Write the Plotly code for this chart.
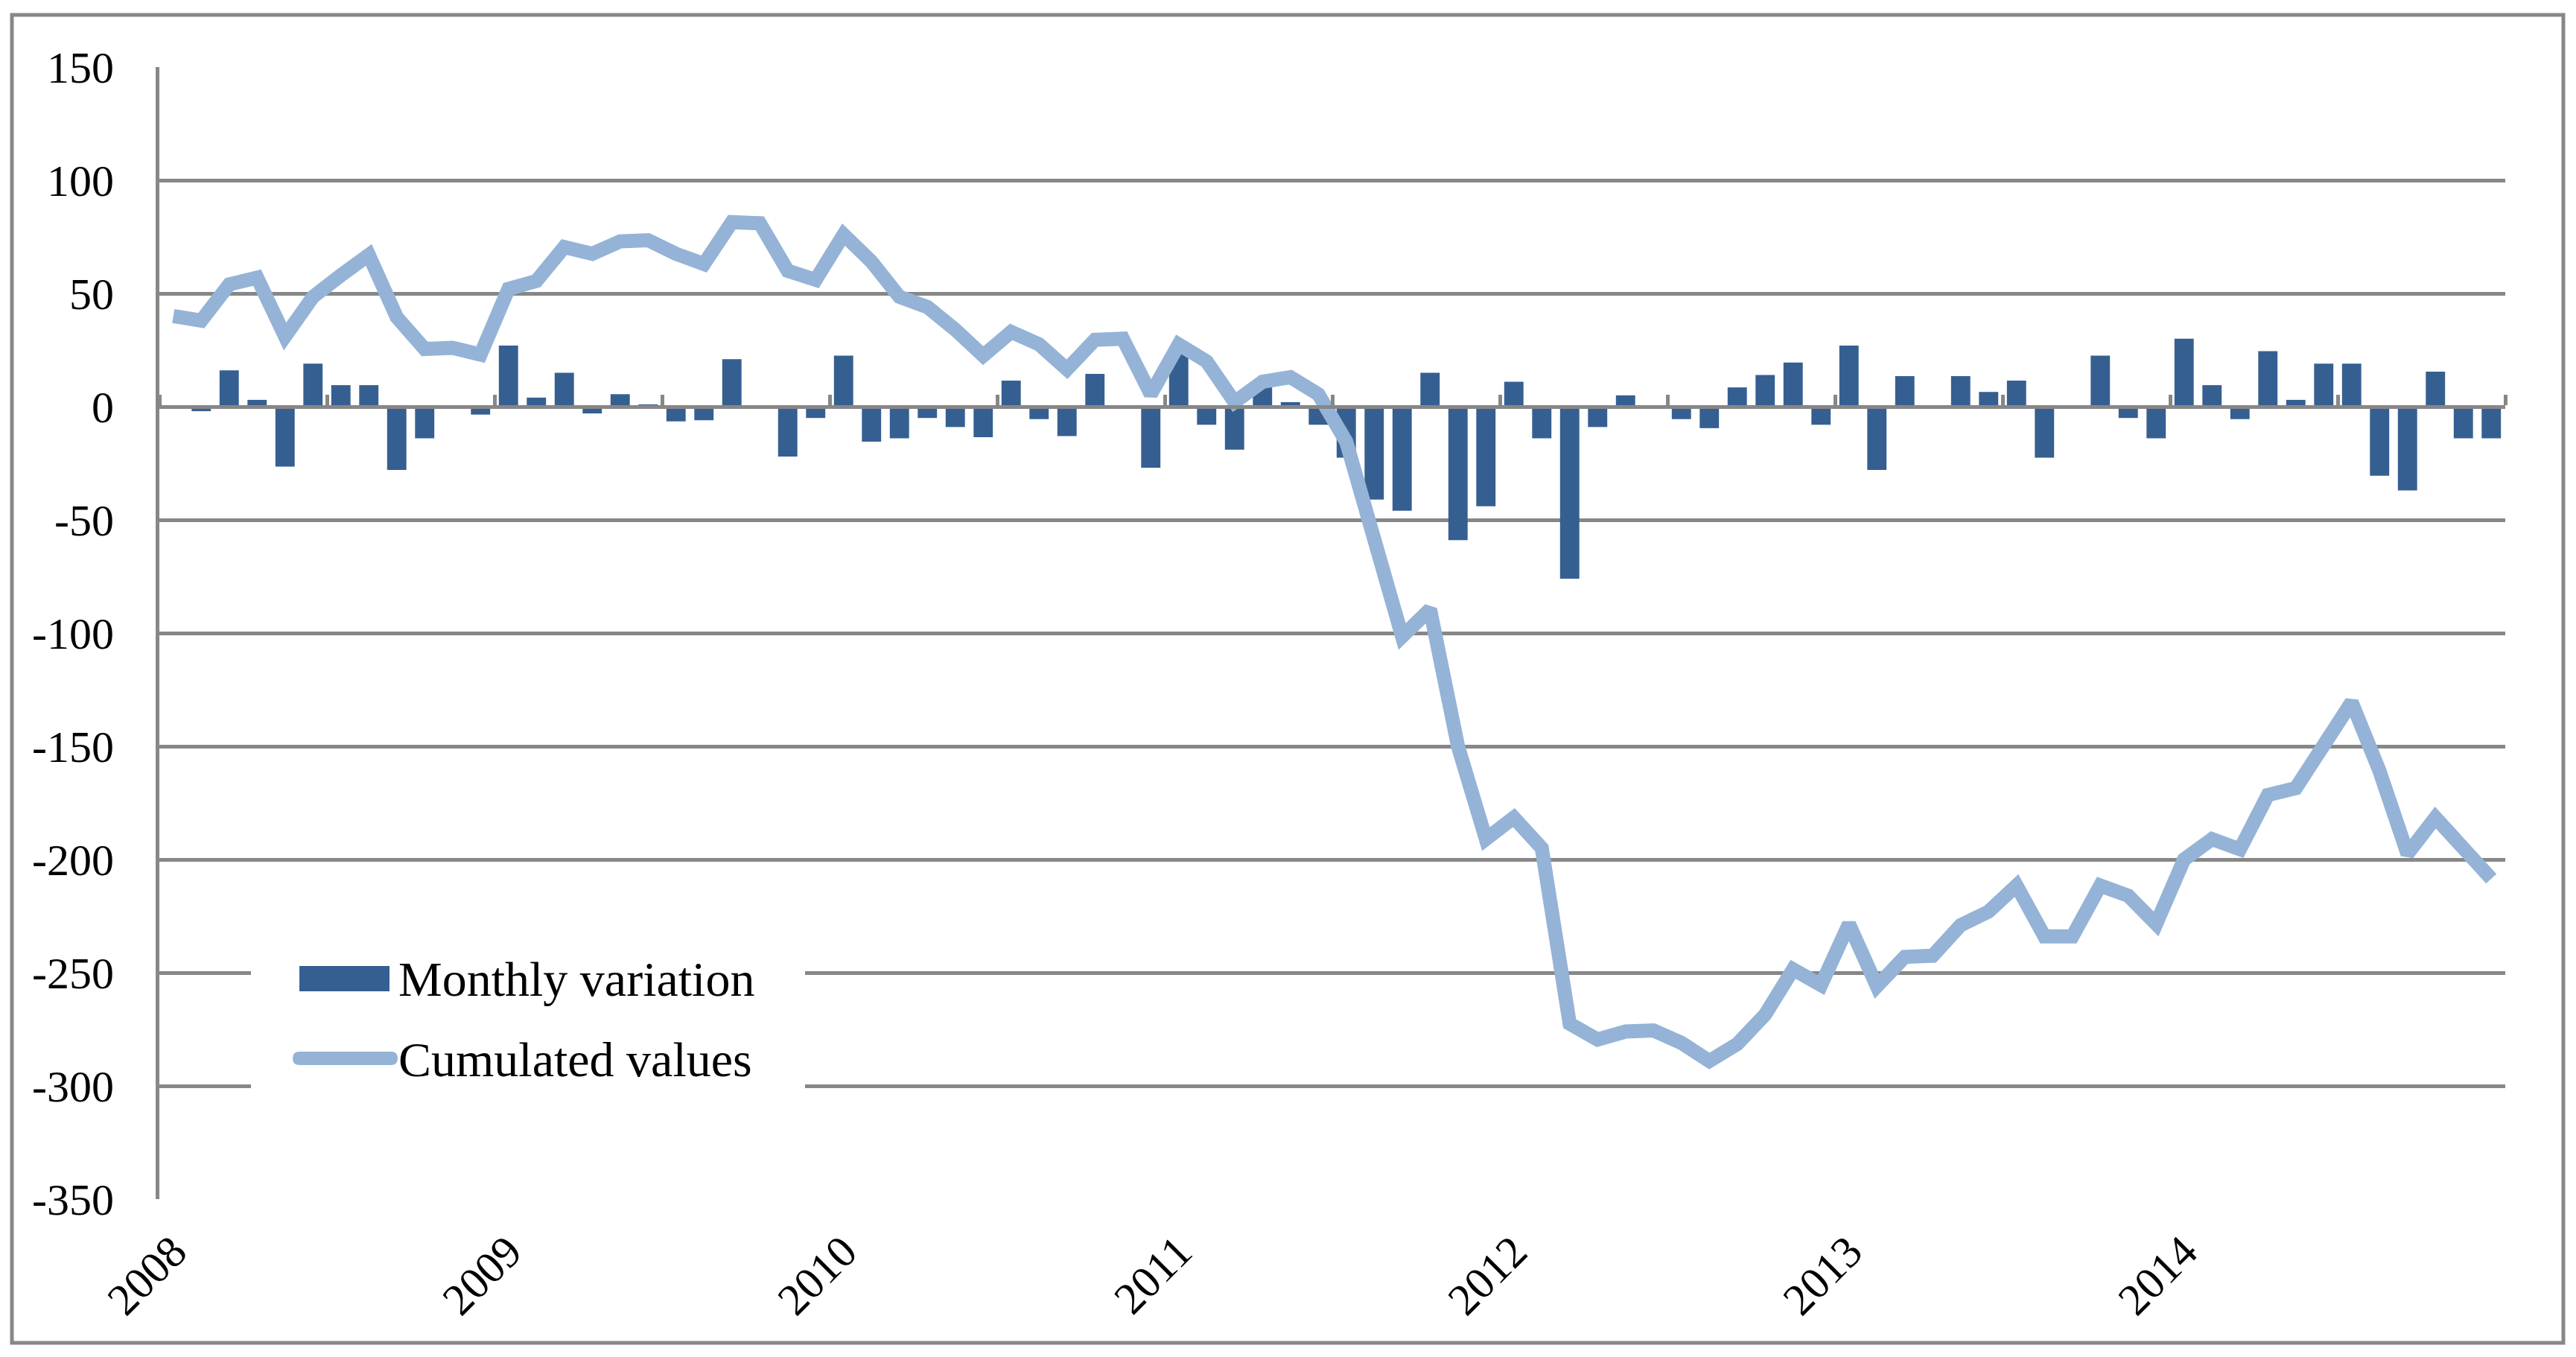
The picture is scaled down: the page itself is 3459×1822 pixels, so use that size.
import plotly.graph_objects as go

# ---------------- data ----------------
years = ["2008", "2009", "2010", "2011", "2012", "2013", "2014"]
month_numbers = ["01", "02", "03", "04", "05", "06", "07", "08", "09", "10", "11", "12"]
months = [f"{y}-{m}" for y in years for m in month_numbers]

monthly_2008 = [0, -2, 16, 3, -26.5, 19, 9.5, 9.5, -28, -14, 0.5, -3.5]
monthly_2009 = [27, 4, 15, -3, 5.5, 1, -6.5, -6, 21, 0, -22, -5]
monthly_2010 = [22.5, -15.5, -14, -5, -9, -13.5, 11.5, -5.5, -13, 14.5, 0, -27]
monthly_2011 = [23, -8, -19, 10, 2, -8, -22.5, -41, -46, 15, -59, -44]
monthly_2012 = [11, -14, -76, -9, 5, 0, -5.5, -9.5, 8.5, 14, 19.5, -8]
monthly_2013 = [27, -28, 13.5, 0, 13.5, 6.5, 11.5, -22.5, 0, 22.5, -5, -14]
monthly_2014 = [30, 9.5, -5.5, 24.5, 3, 19, 19, -30.5, -37, 15.5, -14, -14]

cumulated_2008 = [40, 38, 54, 57, 31, 48.5, 58, 67, 39.5, 25.5, 26, 23]
cumulated_2009 = [52, 55.5, 70.5, 67.5, 73, 73.5, 67.5, 63, 81.5, 81, 60, 56]
cumulated_2010 = [76, 64, 48.5, 44, 34, 22.5, 33, 27.5, 16.5, 29.5, 30, 5.5]
cumulated_2011 = [27.5, 20, 2, 11, 13, 5.5, -15.5, -56, -101.5, -89.5, -150, -191]
cumulated_2012 = [-181.5, -195, -272.5, -279.5, -276, -275.5, -281, -289, -281.5, -268.5, -248.5, -255.5]
cumulated_2013 = [-228.5, -256, -243, -242.5, -229, -223, -211.5, -234, -234, -211.5, -216, -228.5]
cumulated_2014 = [-200, -191, -195.5, -171.5, -168.5, -149.5, -130.5, -161, -197.5, -181.5, -195.5, -208.5]

monthly = (monthly_2008 + monthly_2009 + monthly_2010 + monthly_2011
           + monthly_2012 + monthly_2013 + monthly_2014)
cumulated = (cumulated_2008 + cumulated_2009 + cumulated_2010 + cumulated_2011
             + cumulated_2012 + cumulated_2013 + cumulated_2014)

year_ticks = [f"{y}-01" for y in years]
y_tick_values = [150, 100, 50, 0, -50, -100, -150, -200, -250, -300, -350]
y_tick_labels = ["150", "100", "50", "0", "-50", "-100", "-150", "-200", "-250", "-300", "-350"]
series_names = ["Monthly variation", "Cumulated values"]

# ---------------- layout constants ----------------
W, H = 3459, 1822
L, R, T, B = 214, 3364, 90, 1610   # plot area in pixels


def px(X):
    return (X - L) / (R - L)


def py(Y):
    return (B - Y) / (B - T)


GRID = "#878787"
BAR = "#365F91"
LINE = "#95B3D7"
FONT = "Liberation Serif"
TICK_SIZE = 60
LEG_SIZE = 66

fig = go.Figure()
fig.add_trace(go.Bar(
    x=months, y=monthly, name=series_names[0],
    marker=dict(color=BAR, line=dict(width=0)), showlegend=False,
))
fig.add_trace(go.Scatter(
    x=months, y=cumulated, name=series_names[1], mode="lines",
    line=dict(color=LINE, width=19), xaxis="x2", showlegend=False,
))

fig.update_layout(
    width=W, height=H,
    margin=dict(l=L, r=W - R, t=T, b=H - B, pad=0),
    paper_bgcolor="white", plot_bgcolor="white",
    template="none",
    bargap=0.31,
    font=dict(family=FONT, color="black"),
    xaxis=dict(
        type="category", categoryorder="array", categoryarray=months,
        range=[-0.5, len(months) - 0.5],
        tickvals=year_ticks, ticktext=years, tickangle=-45,
        showline=False, showgrid=False, zeroline=False, ticks="",
        ticklabelstandoff=22,
        tickfont=dict(family=FONT, size=TICK_SIZE, color="black"),
        automargin=False,
    ),
    xaxis2=dict(
        type="category", categoryorder="array", categoryarray=months,
        overlaying="x", anchor="free", position=(0 - (-350)) / (150 - (-350)),
        side="top", range=[-0.5, len(months) - 0.5],
        showticklabels=False, ticks="outside", tickson="boundaries", dtick=6,
        ticklen=14, tickwidth=5, tickcolor=GRID,
        showline=True, linecolor=GRID, linewidth=5,
        showgrid=False, zeroline=False, automargin=False,
    ),
    yaxis=dict(
        range=[-350, 150], tickvals=y_tick_values, ticktext=y_tick_labels,
        showgrid=True, gridcolor=GRID, gridwidth=4.5,
        zeroline=False, showline=True, linecolor=GRID, linewidth=5,
        ticks="", ticklabelstandoff=44,
        tickfont=dict(family=FONT, size=TICK_SIZE, color="black"),
        automargin=False,
    ),
)

# outer chart border
shapes = [
    dict(type="rect", xref="paper", yref="paper",
         x0=px(16), x1=px(3442), y0=py(20), y1=py(1803),
         line=dict(color=GRID, width=5), fillcolor="rgba(0,0,0,0)", layer="above"),
    # legend background box
    dict(type="rect", xref="paper", yref="paper",
         x0=px(337), x1=px(1081), y0=py(1262), y1=py(1485),
         line=dict(width=0), fillcolor="white", layer="above"),
    # bar swatch
    dict(type="rect", xref="paper", yref="paper",
         x0=px(402), x1=px(523), y0=py(1297), y1=py(1331),
         line=dict(width=0), fillcolor=BAR, layer="above"),
]

# rounded line swatch
lx0, lx1, ly0, ly1, r = 393, 534, 1412, 1430, 9
path = (f"M{px(lx0 + r)},{py(ly0)} L{px(lx1 - r)},{py(ly0)} "
        f"Q{px(lx1)},{py(ly0)} {px(lx1)},{py((ly0 + ly1) / 2)} "
        f"Q{px(lx1)},{py(ly1)} {px(lx1 - r)},{py(ly1)} "
        f"L{px(lx0 + r)},{py(ly1)} "
        f"Q{px(lx0)},{py(ly1)} {px(lx0)},{py((ly0 + ly1) / 2)} "
        f"Q{px(lx0)},{py(ly0)} {px(lx0 + r)},{py(ly0)} Z")
shapes.append(dict(type="path", xref="paper", yref="paper", path=path,
                   line=dict(width=0), fillcolor=LINE, layer="above"))
fig.update_layout(shapes=shapes)

fig.update_layout(annotations=[
    dict(text=series_names[0], xref="paper", yref="paper",
         x=px(533), y=py(1314), xanchor="left", yanchor="middle", showarrow=False,
         font=dict(family=FONT, size=LEG_SIZE, color="black")),
    dict(text=series_names[1], xref="paper", yref="paper",
         x=px(533), y=py(1422), xanchor="left", yanchor="middle", showarrow=False,
         font=dict(family=FONT, size=LEG_SIZE, color="black")),
])

fig.write_html("out.html", config={"displayModeBar": False},
               post_script="document.body.style.margin='0';")
